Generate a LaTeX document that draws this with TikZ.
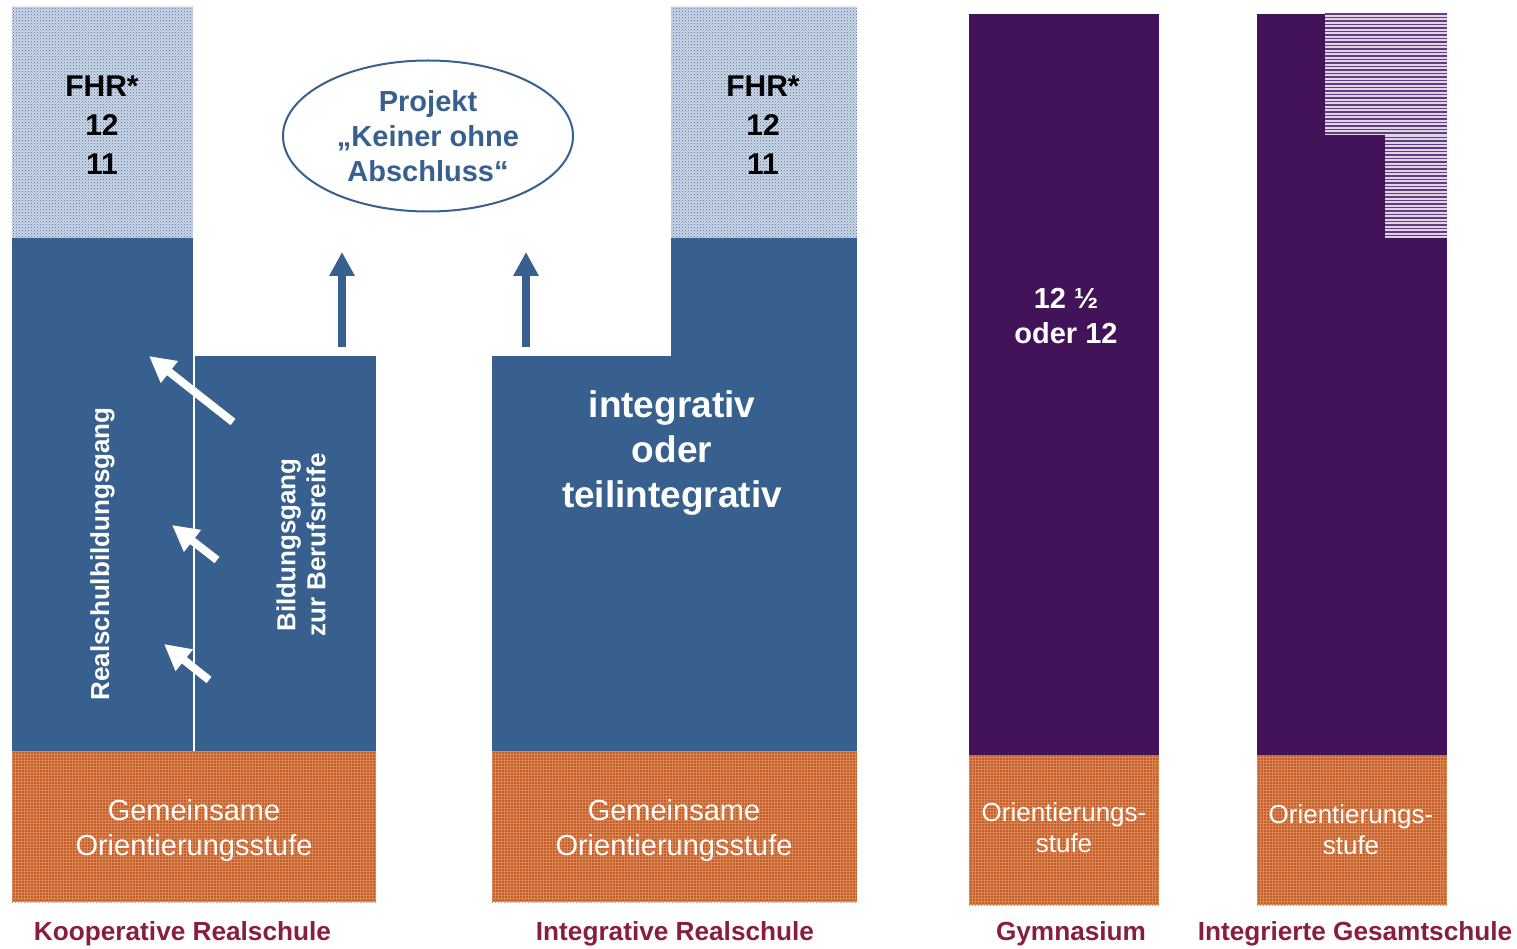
\documentclass[tikz,border=0pt]{standalone}
\usepackage{fontspec}
\setmainfont{Liberation Sans}
\usetikzlibrary{patterns,arrows.meta,shapes.geometric}
\definecolor{rsblue}{RGB}{56,96,143}
\definecolor{gpurple}{RGB}{66,19,89}
\definecolor{oorange}{RGB}{198,92,38}
\definecolor{olight}{RGB}{218,135,88}
\definecolor{fhrbase}{RGB}{205,216,230}
\definecolor{fhrdot}{RGB}{70,105,160}
\definecolor{labred}{RGB}{137,30,60}
\definecolor{stripebase}{RGB}{222,212,230}
\definecolor{stripeline}{RGB}{100,60,128}
\tikzset{
  bluebox/.style={fill=rsblue},
  purplebox/.style={fill=gpurple},
  fhrbox/.style={fill=fhrbase, postaction={pattern=crosshatch dots, pattern color=fhrdot}},
  orangebox/.style={fill=oorange, postaction={pattern=grid, pattern color=olight}},
  fhrtext/.style={inner sep=0, align=center, font=\fontsize{30}{39}\selectfont\bfseries},
  whitebig/.style={inner sep=0, align=center, text=white, font=\fontsize{37}{45}\selectfont\bfseries},
  whitemid/.style={inner sep=0, align=center, text=white, font=\fontsize{29}{35}\selectfont\bfseries},
  vertlabel/.style={inner sep=0, align=center, text=white, rotate=90, font=\fontsize{26}{30}\selectfont\bfseries},
  ortext/.style={inner sep=0, align=center, text=white, font=\fontsize{29}{35}\selectfont},
  orsmall/.style={inner sep=0, align=center, text=white, font=\fontsize{26}{31}\selectfont},
  schoollabel/.style={inner sep=0, anchor=base, text=labred, font=\fontsize{26.2}{30}\selectfont\bfseries},
  bluearrow/.style={rsblue, line width=8pt, -{Triangle[width=24pt,length=24pt]}},
  whitearrow/.style={white, line width=8pt, -{Triangle[width=26pt,length=26pt]}},
}
\begin{document}
\begin{tikzpicture}[x=1pt,y=-1pt]
\useasboundingbox (0,0) rectangle (1517,949);

% ---------- Kooperative Realschule ----------
\fill[fhrbox] (12,7) rectangle (193,238);
\fill[bluebox] (12,238) rectangle (193,751);
\fill[bluebox] (195,356) rectangle (376,751);
\fill[orangebox] (12,751) rectangle (376,902);
\node[fhrtext] (fhr1) at (102,125) {FHR*\\12\\11};
\node[vertlabel] (rsbg) at (102.5,554) {Realschulbildungsgang};
\node[vertlabel] (bgbr) at (301,545) {Bildungsgang\\zur Berufsreife};
\node[ortext] (go1) at (194,830) {Gemeinsame\\Orientierungsstufe};

\coordinate (w1s) at (233,422); \coordinate (w1e) at (149,356);
\coordinate (w2s) at (217,560); \coordinate (w2e) at (172,525);
\coordinate (w3s) at (209,680); \coordinate (w3e) at (164,644);
\draw[whitearrow] (w1s) -- (w1e);
\draw[whitearrow] (w2s) -- (w2e);
\draw[whitearrow] (w3s) -- (w3e);

% ---------- Projekt ----------
\node[ellipse, draw=rsblue, line width=2pt, minimum width=290pt, minimum height=151pt, inner sep=0,
      text=rsblue, align=center, font=\fontsize{29}{35}\selectfont\bfseries]
      (proj) at (428,136) {Projekt\\„Keiner ohne\\Abschluss“};
\coordinate (b1s) at (342,347); \coordinate (b1e) at (342,252);
\coordinate (b2s) at (526,347); \coordinate (b2e) at (526,252);
\draw[bluearrow] (b1s) -- (b1e);
\draw[bluearrow] (b2s) -- (b2e);

% ---------- Integrative Realschule ----------
\fill[fhrbox] (671,7) rectangle (857,238);
\fill[bluebox] (671,238) rectangle (857,356);
\fill[bluebox] (492,356) rectangle (857,751);
\fill[orangebox] (492,751) rectangle (857,902);
\node[fhrtext] (fhr2) at (763,125) {FHR*\\12\\11};
\node[whitebig] (integ) at (672,453) {integrativ\\oder\\teilintegrativ};
\node[ortext] (go2) at (674,830) {Gemeinsame\\Orientierungsstufe};

% ---------- Gymnasium ----------
\fill[purplebox] (969,14) rectangle (1159,755);
\fill[orangebox] (969,755) rectangle (1159,905);
\node[whitemid] (gyjahre) at (1066,316) {12 ½\\oder 12};
\node[orsmall] (or1) at (1064,828) {Orientierungs-\\stufe};

% ---------- Integrierte Gesamtschule ----------
\fill[purplebox] (1257,14) rectangle (1447,755);
\fill[stripebase] (1325,13) rectangle (1447,135);
\fill[stripebase] (1385,135) rectangle (1447,238);
\foreach \yy in {14,17.5,...,134} \draw[stripeline, line width=1.6pt] (1325,\yy) -- (1447,\yy);
\foreach \yy in {137.5,141,...,237} \draw[stripeline, line width=1.6pt] (1385,\yy) -- (1447,\yy);
\fill[orangebox] (1257,755) rectangle (1447,905);
\node[orsmall] (or2) at (1351,830) {Orientierungs-\\stufe};

% ---------- labels ----------
\node[schoollabel] (l1) at (182.5,940) {Kooperative Realschule};
\node[schoollabel] (l2) at (675,940) {Integrative Realschule};
\node[schoollabel] (l3) at (1071,940) {Gymnasium};
\node[schoollabel] (l4) at (1355,940) {Integrierte Gesamtschule};
\end{tikzpicture}
\end{document}
